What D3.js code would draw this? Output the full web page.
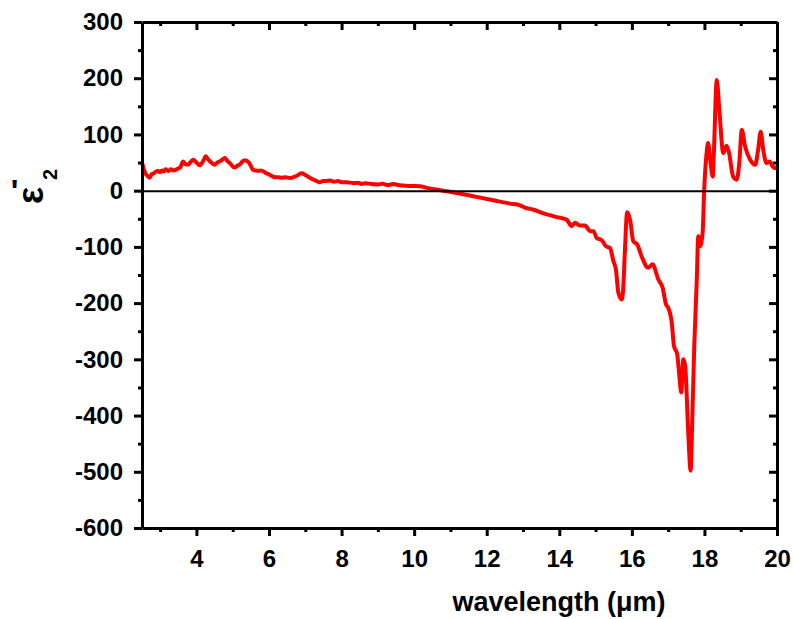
<!DOCTYPE html>
<html><head><meta charset="utf-8">
<script src="https://cdn.jsdelivr.net/npm/d3@7"></script>
<style>body{margin:0;background:#fff}svg{display:block}</style>
</head><body>
<svg id="c" width="793" height="619"></svg>
<script>
const wavelength = [2.50,2.53,2.60,2.66,2.71,2.76,2.80,2.86,2.94,3.00,3.05,3.10,3.15,3.22,3.30,3.36,3.42,3.48,3.55,3.60,3.63,3.70,3.77,3.84,3.91,4.00,4.09,4.18,4.26,4.32,4.38,4.50,4.57,4.64,4.71,4.78,4.85,4.92,5.05,5.12,5.20,5.27,5.33,5.45,5.56,5.63,5.70,5.76,5.83,5.92,6.00,6.08,6.16,6.25,6.35,6.45,6.58,6.68,6.75,6.90,7.00,7.10,7.25,7.40,7.48,7.55,7.68,7.80,7.90,8.00,8.15,8.31,8.45,8.55,8.65,8.78,8.90,9.00,9.14,9.22,9.30,9.42,9.55,9.69,9.85,10.00,10.16,10.35,10.60,10.80,11.26,11.72,12.18,12.64,12.92,13.05,13.30,13.55,13.93,14.20,14.34,14.43,14.57,14.71,14.85,14.94,15.03,15.17,15.29,15.40,15.49,15.56,15.63,15.72,15.76,15.81,15.87,15.95,16.04,16.15,16.27,16.45,16.57,16.73,16.85,16.94,17.00,17.10,17.16,17.25,17.31,17.36,17.42,17.47,17.55,17.62,17.67,17.72,17.79,17.83,17.88,17.95,17.99,18.06,18.10,18.17,18.23,18.26,18.34,18.41,18.52,18.61,18.68,18.79,18.89,18.96,19.03,19.12,19.26,19.40,19.48,19.55,19.62,19.71,19.80,19.88,19.97,20.00];
const eps2 = [50,43,30,26,23,29,30,33,35,33,36,34,38,35,38,36,37,39,41,48,52,47,46,51,55,50,45,52,61,56,52,46,50,52,55,58,53,49,41,44,47,52,54,50,37,36,35,36,35,31,29,26,24,24,23,24,22.5,24,26,31,28,24,19,15,17,17,18,16,17,15,15,13.6,14,12,13,12.4,11.5,11,12.4,10.5,10,12,10,9,8.5,8.5,8,5,2,0,-5,-11,-17,-23,-26,-30,-34,-40,-47,-51.5,-63,-57,-62,-62,-72,-72,-84,-88,-99,-102,-125,-140,-182,-193.5,-176,-105,-38.5,-51.5,-90,-96,-117,-137,-131,-158,-173,-202,-208,-235,-276,-291,-330,-359,-300,-312,-424,-498,-395,-276,-158,-81,-99,-75,-4,67,85,49,25,67,197,144,67,80,67,25,19.5,49,108,79,55,46,73,105,73,49,52,43,40,44];
const xTicks = [4,6,8,10,12,14,16,18,20];
const xMinor = [3,5,7,9,11,13,15,17,19];
const yTicks = [-600,-500,-400,-300,-200,-100,0,100,200,300];
const yMinor = [-550,-450,-350,-250,-150,-50,50,150,250];

const svg = d3.select('#c');
const L=142, R=777, T=22, B=528;
const x = d3.scaleLinear().domain([2.5,20]).range([L,R]);
const y = d3.scaleLinear().domain([-600,300]).range([B,T]);
const font = 'Arial, "Liberation Sans", sans-serif';
const fmt = d => String(d);

// curve
const data = wavelength.map((d,i)=>[d,eps2[i]]);
svg.append('path').datum(data)
  .attr('d', d3.line().x(d=>x(d[0])).y(d=>y(d[1])).curve(d3.curveMonotoneX))
  .attr('fill','none').attr('stroke','#ff0000').attr('stroke-width',4).attr('stroke-linejoin','round');

// zero line
svg.append('line').attr('x1',x(2.5)).attr('x2',x(20)).attr('y1',y(0)+0.5).attr('y2',y(0)+0.5)
  .attr('stroke','#000').attr('stroke-width',2);

const SW = 3;
function styleAxis(g){
  g.select('.domain').attr('stroke','#000').attr('stroke-width',SW);
  g.selectAll('.tick line').attr('stroke','#000').attr('stroke-width',SW);
  g.selectAll('text').attr('font-family',font).attr('font-weight','bold').attr('font-size',24).attr('fill','#000');
}
function minor(g){ g.select('.domain').remove(); g.selectAll('line').attr('stroke','#000').attr('stroke-width',SW); }
// bottom
const gb = svg.append('g').attr('transform',`translate(0,${B})`)
  .call(d3.axisBottom(x).tickValues(xTicks).tickSizeInner(8).tickSizeOuter(0).tickPadding(14).tickFormat(fmt));
styleAxis(gb);
svg.append('g').attr('transform',`translate(0,${B})`)
  .call(d3.axisBottom(x).tickValues(xMinor).tickSize(4).tickFormat('')).call(minor);
// top
const gt = svg.append('g').attr('transform',`translate(0,${T})`)
  .call(d3.axisBottom(x).tickValues(xTicks).tickSizeInner(8).tickSizeOuter(0).tickFormat(''));
styleAxis(gt);
svg.append('g').attr('transform',`translate(0,${T})`)
  .call(d3.axisBottom(x).tickValues(xMinor).tickSize(4).tickFormat('')).call(minor);
// left
const gl = svg.append('g').attr('transform',`translate(${L},0)`)
  .call(d3.axisLeft(y).tickValues(yTicks).tickSizeInner(8).tickSizeOuter(0).tickPadding(11).tickFormat(fmt));
styleAxis(gl);
svg.append('g').attr('transform',`translate(${L},0)`)
  .call(d3.axisLeft(y).tickValues(yMinor).tickSize(4).tickFormat('')).call(minor);
// right (ticks inward)
const gr = svg.append('g').attr('transform',`translate(${R},0)`)
  .call(d3.axisRight(y).tickValues(yTicks).tickSizeInner(-8).tickSizeOuter(0).tickFormat(''));
styleAxis(gr);
svg.append('g').attr('transform',`translate(${R},0)`)
  .call(d3.axisRight(y).tickValues(yMinor).tickSize(-4).tickFormat('')).call(minor);

// x title
svg.append('text').attr('x',559).attr('y',611).attr('text-anchor','middle')
  .attr('font-family',font).attr('font-weight','bold').attr('font-size',27).text('wavelength (μm)');

// y title
const yt = svg.append('g').attr('transform','translate(43,204) rotate(-90)');
yt.append('text').attr('x',0).attr('y',0).attr('font-family',font).attr('font-weight','bold').attr('font-size',36).text('ε');
yt.append('text').attr('x',24).attr('y',14).attr('font-family',font).attr('font-weight','bold').attr('font-size',20).text('2');
svg.append('text').attr('x',14.5).attr('y',202).attr('text-anchor','middle')
  .attr('font-family',font).attr('font-weight','bold').attr('font-size',32).text("'");
</script>
</body></html>
